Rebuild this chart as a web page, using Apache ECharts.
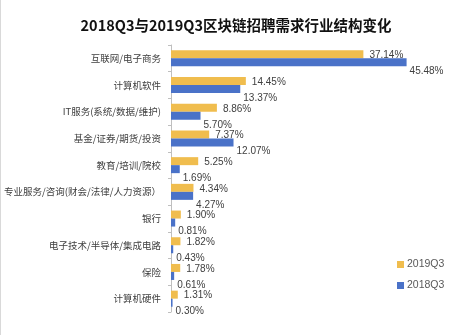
<!DOCTYPE html>
<html>
<head>
<meta charset="utf-8">
<script src="https://cdn.jsdelivr.net/npm/echarts@6/dist/echarts.min.js"></script>
<style>
html,body{margin:0;padding:0;background:#fff;}
#c{width:471px;height:335px;box-sizing:border-box;border-left:1px solid #d9d9d9;}
</style>
</head>
<body>
<div id="c"></div>
<script>
const categories = ['互联网/电子商务','计算机软件','IT服务(系统/数据/维护)','基金/证券/期货/投资','教育/培训/院校','专业服务/咨询(财会/法律/人力资源）','银行','电子技术/半导体/集成电路','保险','计算机硬件'];
const values2019 = [37.14,14.45,8.86,7.37,5.25,4.34,1.90,1.82,1.78,1.31];
const values2018 = [45.48,13.37,5.70,12.07,1.69,4.27,0.81,0.43,0.61,0.30];
const seriesNames = ['2019Q3','2018Q3'];

const chart = echarts.init(document.getElementById('c'));
const labelFont = {fontFamily:'Liberation Sans, Arial, sans-serif', fontSize:10, color:'#404040'};
chart.setOption({
  animation:false,
  title:{text:'2018Q3与2019Q3区块链招聘需求行业结构变化',left:'center',top:13,
    textStyle:{fontFamily:'Noto Sans CJK SC',fontSize:14.5,fontWeight:'bold',color:'#111'}},
  legend:{orient:'vertical',left:391,top:254,itemWidth:7,itemHeight:7,itemGap:10,
    icon:'rect',data:seriesNames,
    textStyle:{fontFamily:'Liberation Sans, Arial, sans-serif',fontSize:10.5,color:'#595959',padding:[0,0,0,-2]}},
  grid:{left:170,right:41,top:45,bottom:23,containLabel:false},
  xAxis:{type:'value',min:0,max:50,show:false},
  yAxis:{type:'category',data:categories,inverse:true,
    axisLine:{lineStyle:{color:'#bfbfbf'}},
    axisTick:{show:true,length:3,lineStyle:{color:'#bfbfbf'}},
    axisLabel:{fontFamily:'Noto Sans CJK SC',fontSize:9.5,color:'#404040',margin:10}},
  series:[
    {name:seriesNames[0],type:'bar',data:values2019,barWidth:8,barGap:'0%',
      itemStyle:{color:'#F0BD4E'},
      label:{show:true,position:'right',distance:6,offset:[0,1],formatter:p=>p.value.toFixed(2)+'%',...labelFont}},
    {name:seriesNames[1],type:'bar',data:values2018,barWidth:8,barGap:'0%',
      itemStyle:{color:'#4A72C8'},
      label:{show:true,position:'right',distance:3,offset:[0,9],formatter:p=>p.value.toFixed(2)+'%',...labelFont}}
  ]
});
</script>
</body>
</html>
